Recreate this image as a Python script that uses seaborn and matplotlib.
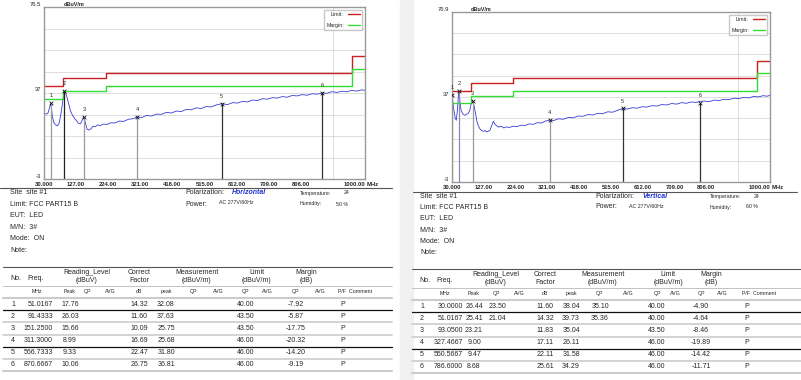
import seaborn as sns
import matplotlib.pyplot as plt
from matplotlib.lines import Line2D
from matplotlib.patches import Rectangle

W, H = 801, 380

# axis ticks shared by both plots
x_ticks = [30, 127, 224, 321, 418, 515, 612, 709, 806, 1000]
x_tick_labels = ["30.000", "127.00", "224.00", "321.00", "418.00",
                 "515.00", "612.00", "709.00", "806.00", "1000.00"]
x_grid = [127, 224, 321, 418, 515, 612, 709, 806, 903]

# FCC part 15 B limit steps and margin (limit - 6 dB)
limit_freq = [30, 88, 216, 960, 1000]
limit_level = [40, 43.5, 46, 54, 54]
margin_level = [34, 37.5, 40, 48, 48]

# horizontal scan
h_freq = [30, 34, 38, 42, 46, 51, 55, 60, 65, 70, 75, 80, 85, 89, 92, 96, 100,
          105, 110, 116, 122, 128, 134, 140, 145, 150, 155, 160, 166, 172, 178,
          185, 192, 200, 210, 220, 232, 245, 258, 270, 285, 300, 311, 325, 340,
          355, 370, 385, 400, 415, 430, 445, 460, 475, 490, 505, 520, 535, 550,
          567, 585, 600, 615, 630, 645, 660, 675, 690, 705, 720, 735, 750, 765,
          780, 795, 810, 825, 840, 855, 871, 885, 900, 915, 930, 945, 960, 975,
          990, 1000]
h_level = [27.6, 27.2, 27.0, 27.5, 29.5, 32.1, 26.0, 23.0, 22.0, 21.6, 22.5,
           26.0, 31.0, 36.0, 37.6, 36.5, 34.5, 31.5, 28.5, 26.5, 25.0, 24.0,
           22.8, 22.5, 24.0, 25.8, 23.0, 20.0, 19.6, 20.2, 21.4, 21.2, 22.0,
           21.7, 22.4, 22.2, 23.0, 22.9, 23.8, 23.6, 24.6, 24.9, 25.7, 25.4,
           26.4, 26.1, 27.0, 26.9, 27.8, 27.5, 28.4, 28.2, 29.2, 29.0, 29.9,
           29.6, 30.5, 30.3, 31.2, 31.8, 31.4, 32.3, 32.1, 32.9, 32.6, 33.5,
           33.3, 34.1, 33.9, 34.6, 34.4, 35.1, 34.8, 35.6, 35.4, 36.0, 35.7,
           36.4, 36.2, 36.8, 36.6, 37.4, 37.0, 37.6, 37.3, 38.0, 37.6, 38.2, 38.0]

# vertical scan
v_freq = [30, 33, 36, 40, 43, 46, 49, 51, 54, 58, 63, 69, 74, 79, 84, 88, 93,
          97, 102, 106, 110, 115, 120, 126, 131, 136, 141, 146, 151, 156, 161,
          166, 172, 180, 188, 196, 205, 216, 228, 240, 252, 265, 278, 290, 302,
          315, 326, 340, 355, 370, 385, 400, 415, 430, 445, 460, 475, 490, 505,
          520, 535, 551, 565, 580, 595, 610, 625, 640, 655, 670, 685, 700, 715,
          730, 745, 760, 775, 787, 800, 815, 830, 845, 860, 875, 890, 905, 920,
          935, 950, 965, 980, 990, 1000]
v_level = [38.0, 34.0, 30.5, 27.0, 26.0, 30.0, 36.5, 39.7, 35.0, 30.5, 29.0,
           28.3, 28.8, 29.2, 30.5, 33.5, 35.0, 33.0, 29.0, 25.5, 23.5, 22.0,
           21.3, 20.8, 21.2, 20.5, 20.9, 21.4, 23.5, 25.5, 24.2, 23.5, 22.8,
           23.2, 22.4, 22.9, 22.6, 23.2, 23.0, 23.7, 23.5, 24.3, 24.1, 24.9,
           24.7, 25.6, 26.1, 25.9, 26.7, 26.5, 27.4, 27.2, 28.0, 27.9, 28.7,
           28.5, 29.3, 29.1, 30.0, 29.8, 30.7, 31.6, 31.3, 31.9, 31.7, 32.4,
           32.2, 32.9, 32.7, 33.4, 33.2, 33.9, 33.6, 34.3, 34.0, 34.6, 34.4,
           34.9, 35.0, 34.8, 35.5, 35.3, 35.9, 35.7, 36.4, 36.2, 36.8, 36.5,
           37.2, 37.0, 37.6, 37.3, 37.7]

# table: horizontal
h_tab_freq = ["51.0167", "91.4333", "151.2500", "311.3000", "566.7333", "870.6667"]
h_tab_read_peak = ["17.76", "26.03", "15.66", "8.99", "9.33", "10.06"]
h_tab_read_qp = ["", "", "", "", "", ""]
h_tab_factor = ["14.32", "11.60", "10.09", "16.69", "22.47", "26.75"]
h_tab_meas_peak = ["32.08", "37.63", "25.75", "25.68", "31.80", "36.81"]
h_tab_meas_qp = ["", "", "", "", "", ""]
h_tab_limit = ["40.00", "43.50", "43.50", "46.00", "46.00", "46.00"]
h_tab_margin = ["-7.92", "-5.87", "-17.75", "-20.32", "-14.20", "-9.19"]

# table: vertical
v_tab_freq = ["30.0000", "51.0167", "93.0500", "327.4667", "550.5667", "786.6000"]
v_tab_read_peak = ["26.44", "25.41", "23.21", "9.00", "9.47", "8.68"]
v_tab_read_qp = ["23.50", "21.04", "", "", "", ""]
v_tab_factor = ["11.60", "14.32", "11.83", "17.11", "22.11", "25.61"]
v_tab_meas_peak = ["38.04", "39.73", "35.04", "26.11", "31.58", "34.29"]
v_tab_meas_qp = ["35.10", "35.36", "", "", "", ""]
v_tab_limit = ["40.00", "40.00", "43.50", "46.00", "46.00", "46.00"]
v_tab_margin = ["-4.90", "-4.64", "-8.46", "-19.89", "-14.42", "-11.71"]

# marker stem colours as they show on the scans
h_stem_colors = ['#9a9a9a', '#222222', '#9a9a9a', '#9a9a9a', '#333333', '#333333']
v_stem_colors = ['#9a9a9a', '#8888bb', '#9a9a9a', '#9a9a9a', '#333333', '#333333']


sns.set_theme(style="white")
plt.rcParams['font.family'] = ['Liberation Sans', 'DejaVu Sans']
fig = plt.figure(figsize=(W / 100, H / 100), dpi=100)


def T(x, y, s, size=5.0, **kw):
    kw.setdefault('va', 'center')
    fig.text(x / W, 1 - y / H, s, fontsize=size, **kw)


def hline(x1, x2, y, color='#222222', lw=0.8):
    fig.add_artist(Line2D([x1 / W, x2 / W], [1 - y / H, 1 - y / H],
                          color=color, lw=lw))


def draw_chart(box, top, tr_f, tr_v, tab_f, tab_v, stem_colors):
    x1, y1, x2, y2 = box
    ax = fig.add_axes([x1 / W, 1 - y2 / H, (x2 - x1) / W, (y2 - y1) / H])
    sns.lineplot(x=tr_f, y=tr_v, ax=ax, color='#3b3bd6', lw=0.6,
                 estimator=None, sort=False)
    sns.lineplot(x=limit_freq, y=limit_level, ax=ax, color='#cc2020', lw=1.0,
                 drawstyle='steps-post', estimator=None, label='Limit:')
    sns.lineplot(x=limit_freq, y=margin_level, ax=ax, color='#33dd33', lw=1.0,
                 drawstyle='steps-post', estimator=None, label='Margin:')
    mf = [float(f) for f in tab_f]
    mv = [float(v) for v in tab_v]
    ax.vlines(mf, -3, mv, colors=stem_colors, lw=0.9)
    ax.scatter(mf, mv, marker='x', s=7, lw=0.6, color='#111111', zorder=5)
    for i, (f, v) in enumerate(zip(mf, mv)):
        ax.text(f, v + 2.2, str(i + 1), fontsize=4, ha='center', va='bottom')
    ax.set_xlim(30, 1000)
    ax.set_ylim(-3, top)
    ax.set_xticks(x_ticks)
    ax.set_xticklabels(x_tick_labels, fontsize=4.2, fontweight='bold')
    ax.get_xticklabels()[-1].set_ha('right')
    ax.set_xticks(x_grid, minor=True)
    step = (top + 3) / 8
    ax.set_yticks([-3 + step * k for k in range(1, 8)], minor=True)
    ax.set_yticks([-3, 37, top])
    ax.set_yticklabels(['-3', '37', str(top)], fontsize=4.2, va='bottom')
    ax.tick_params(length=0, pad=2)
    ax.grid(which='minor', color='#d8d8d8', lw=0.6)
    ax.grid(which='major', visible=False)
    ax.set_xlabel('')
    ax.set_ylabel('')
    for s in ax.spines.values():
        s.set_color('#999999')
        s.set_linewidth(1.0)
    ax.text(1.005, -0.02, 'MHz', transform=ax.transAxes, fontsize=4.2,
            fontweight='bold', va='top', ha='left')
    ax.text(0.06, 1.0, 'dBuV/m', transform=ax.transAxes, fontsize=4,
            fontweight='bold', va='bottom')
    ax.legend(loc='upper right', fontsize=3.8, markerfirst=False,
              handlelength=2.2, frameon=True, fancybox=False,
              edgecolor='#bbbbbb', borderpad=0.5, labelspacing=1.0)
    return ax


def draw_info(x0, y0, pol, humidity):
    rows = ["Site  site #1", "Limit: FCC PART15 B", "EUT:  LED", "M/N:  3#",
            "Mode:  ON", "Note:"]
    for k, r in enumerate(rows):
        T(x0 + 10, y0 + 193 + k * 11.4, r, size=5)
    T(x0 + 185, y0 + 193, "Polarization:", size=5)
    T(x0 + 232, y0 + 193, pol, size=5, color='#2233cc', fontweight='bold',
      style='italic')
    T(x0 + 300, y0 + 193, "Temperature:", size=3.8)
    T(x0 + 344, y0 + 193, "24", size=3.8)
    T(x0 + 185, y0 + 204, "Power:", size=5)
    T(x0 + 219, y0 + 203, "AC 277V/60Hz", size=3.8)
    T(x0 + 300, y0 + 204, "Humidity:", size=3.8)
    T(x0 + 336, y0 + 204, humidity, size=3.8)


def draw_table(x0, y0, cols, freq, rpk, rqp, fac, mpk, mqp, lim, mar):
    c = cols
    T(x0 + 10, y0 + 279, "No.")
    T(x0 + 27, y0 + 279, "Freq.")
    for (xc, a, b) in [(c['rqp'] - 1, "Reading_Level", "(dBuV)"),
                       (c['fac'], "Correct", "Factor"),
                       (c['mqp'] + 3, "Measurement", "(dBuV/m)"),
                       (c['lim'] + 11, "Limit", "(dBuV/m)"),
                       (c['mar'] + 10, "Margin", "(dB)")]:
        T(x0 + xc, y0 + 272, a, ha='center')
        T(x0 + xc, y0 + 281, b, ha='center')
    units = [('mhz', 'MHz'), ('rpk', 'Peak'), ('rqp', 'QP'), ('ravg', 'AVG'),
             ('fac', 'dB'), ('mpk', 'peak'), ('mqp', 'QP'), ('mavg', 'AVG'),
             ('lim', 'QP'), ('lavg', 'AVG'), ('mar', 'QP'), ('aavg', 'AVG')]
    for key, u in units:
        T(x0 + c[key], y0 + 291.5, u, size=3.8, ha='center')
    T(x0 + c['pf'] - 5, y0 + 291.5, "P/F  Comment", size=3.8)
    for k in range(6):
        y = y0 + 304 + k * 12.2
        T(x0 + 13, y, str(k + 1), ha='center')
        T(x0 + c['freq'], y, freq[k], ha='right')
        for key, arr in [('rpk', rpk), ('rqp', rqp), ('fac', fac),
                         ('mpk', mpk), ('mqp', mqp), ('lim', lim),
                         ('mar', mar)]:
            T(x0 + c[key], y, arr[k], ha='center')
        T(x0 + c['pf'], y, "P", ha='center')
    hline(x0 + 3, x0 + 392, y0 + 267, color='#555555', lw=0.8)
    hline(x0 + 3, x0 + 392, y0 + 286, color='#aaaaaa', lw=0.5)
    seps = [('#cccccc', 1.5), ('#111111', 0.9), ('#cccccc', 1.2),
            ('#cccccc', 1.2), ('#111111', 0.9), ('#cccccc', 1.2),
            ('#cccccc', 1.5)]
    for k, (col, lw) in enumerate(seps):
        hline(x0 + 3, x0 + 392, y0 + 298 + k * 12.2, color=col, lw=lw)


# background strip between the two reports
fig.add_artist(Rectangle((400 / W, 0), 13 / W, 1, transform=fig.transFigure,
                         color='#f0f0f0', zorder=0))

draw_chart((44, 7, 365, 179), 76.5, h_freq, h_level,
           h_tab_freq, h_tab_meas_peak, h_stem_colors)
draw_chart((452, 12, 770, 182), 76.9, v_freq, v_level,
           v_tab_freq, v_tab_meas_peak, v_stem_colors)

hline(0, 392, 188, color='#555555', lw=0.8)
hline(413, 797, 192, color='#555555', lw=0.8)
draw_info(0, 0, "Horizontal", "50 %")
draw_info(410, 3, "Vertical", "60 %")

h_cols = dict(mhz=37, freq=53, rpk=70, rqp=88, ravg=110, fac=139, mpk=166,
              mqp=194, mavg=218, lim=246, lavg=267, mar=296, aavg=320, pf=343)
v_cols = dict(mhz=36, freq=54, rpk=65, rqp=88, ravg=110, fac=136, mpk=162,
              mqp=191, mavg=219, lim=248, lavg=266, mar=292, aavg=313, pf=338)
draw_table(0, 0, h_cols, h_tab_freq, h_tab_read_peak, h_tab_read_qp,
           h_tab_factor, h_tab_meas_peak, h_tab_meas_qp, h_tab_limit,
           h_tab_margin)
draw_table(409, 2, v_cols, v_tab_freq, v_tab_read_peak, v_tab_read_qp,
           v_tab_factor, v_tab_meas_peak, v_tab_meas_qp, v_tab_limit,
           v_tab_margin)

plt.savefig('out.png', dpi=100)
